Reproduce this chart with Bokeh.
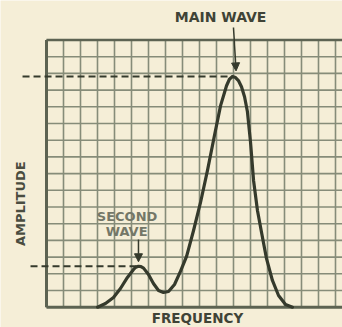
from math import pi
from bokeh.plotting import figure
from bokeh.models import Range1d, Label, Arrow, NormalHead
from bokeh.embed import file_html
from bokeh.resources import INLINE

# ---- data (grid units: 1 unit = one graph-paper cell) ----
freq = [3.00, 3.47, 3.94, 4.35, 4.76, 5.12, 5.26, 5.41, 5.56, 5.71, 6.00, 6.29,
        6.59, 6.88, 7.18, 7.53, 7.88, 8.24, 8.65, 9.06, 9.47, 9.88, 10.24,
        10.59, 10.76, 10.94, 11.12, 11.29, 11.47, 11.65, 11.82, 12.00, 12.18,
        12.41, 12.65, 12.94, 13.29, 13.65, 14.06, 14.47]
amp = [0.00, 0.22, 0.58, 1.12, 1.78, 2.26, 2.40, 2.45, 2.43, 2.34, 1.96, 1.42,
       1.00, 0.88, 0.94, 1.36, 2.14, 3.04, 4.59, 6.27, 8.19, 10.28, 12.07,
       13.26, 13.65, 13.81, 13.75, 13.57, 13.20, 12.60, 11.70, 9.90, 7.59,
       5.79, 4.47, 2.92, 1.60, 0.70, 0.16, 0.00]

main_peak = (10.94, 13.81)
second_peak = (5.41, 2.45)
x_cells = list(range(0, 18))
y_cells = list(range(0, 17))

BG = "#f5eed7"
GRID = "#868c79"
INK = "#353a2c"
TXT = "#3f4336"

p = figure(width=342, height=327, output_backend="svg", toolbar_location=None,
           x_range=Range1d(-2.706, 17.412), y_range=Range1d(-1.216, 18.365),
           min_border=0)
p.title.visible = False
p.xaxis.visible = False
p.yaxis.visible = False
p.xgrid.visible = False
p.ygrid.visible = False
p.outline_line_color = None
p.background_fill_color = BG
p.border_fill_color = BG

x_right = 17.412
top = y_cells[-1]

# graph paper grid
p.segment(x0=x_cells, y0=[0] * len(x_cells), x1=x_cells, y1=[top] * len(x_cells),
          line_color=GRID, line_width=1.6)
p.segment(x0=[0] * len(y_cells), y0=y_cells, x1=[x_right] * len(y_cells), y1=y_cells,
          line_color=GRID, line_width=1.6)

# heavier borders (left, top, bottom)
p.segment(x0=[0, 0, 0], y0=[0, top, 0], x1=[0, x_right, x_right], y1=[top, top, 0],
          line_color="#5d6352", line_width=[3, 2.5, 3])

# dashed reference lines
p.line([-1.41, main_peak[0]], [main_peak[1], main_peak[1]],
       line_color=INK, line_width=2, line_dash="7 4")
p.line([-0.94, second_peak[0]], [second_peak[1], second_peak[1]],
       line_color=INK, line_width=2, line_dash="7 4")

# the curve
p.line(freq, amp, line_color=INK, line_width=3.2, line_join="round", line_cap="round")

# arrows
p.add_layout(Arrow(x_start=11.0, y_start=16.75, x_end=11.15, y_end=14.15,
                   line_color=INK, line_width=1.5,
                   end=NormalHead(size=8, fill_color=INK, line_color=INK)))
p.add_layout(Arrow(x_start=second_peak[0], y_start=4.05, x_end=second_peak[0], y_end=2.72,
                   line_color=INK, line_width=1.5,
                   end=NormalHead(size=8, fill_color=INK, line_color=INK)))

# texts
p.add_layout(Label(x=10.24, y=17.35, text="MAIN WAVE", text_align="center",
                   text_baseline="middle", text_font="DejaVu Sans",
                   text_font_style="bold",
                   text_font_size="14px", text_color=TXT))
p.add_layout(Label(x=4.74, y=5.43, text="SECOND", text_align="center",
                   text_baseline="middle", text_font="DejaVu Sans",
                   text_font_style="bold",
                   text_font_size="13px", text_color="#747767"))
p.add_layout(Label(x=4.71, y=4.53, text="WAVE", text_align="center",
                   text_baseline="middle", text_font="DejaVu Sans",
                   text_font_style="bold",
                   text_font_size="13px", text_color="#747767"))
p.add_layout(Label(x=8.88, y=-0.64, text="FREQUENCY", text_align="center",
                   text_baseline="middle", text_font="DejaVu Sans",
                   text_font_style="bold",
                   text_font_size="13.5px", text_color=TXT))
p.add_layout(Label(x=-1.53, y=6.2, text="AMPLITUDE", angle=pi / 2,
                   text_align="center", text_baseline="middle",
                   text_font="DejaVu Sans", text_font_style="bold",
                   text_font_size="13px", text_color="#4a4d40"))

open("out.html", "w").write(file_html(p, INLINE))
